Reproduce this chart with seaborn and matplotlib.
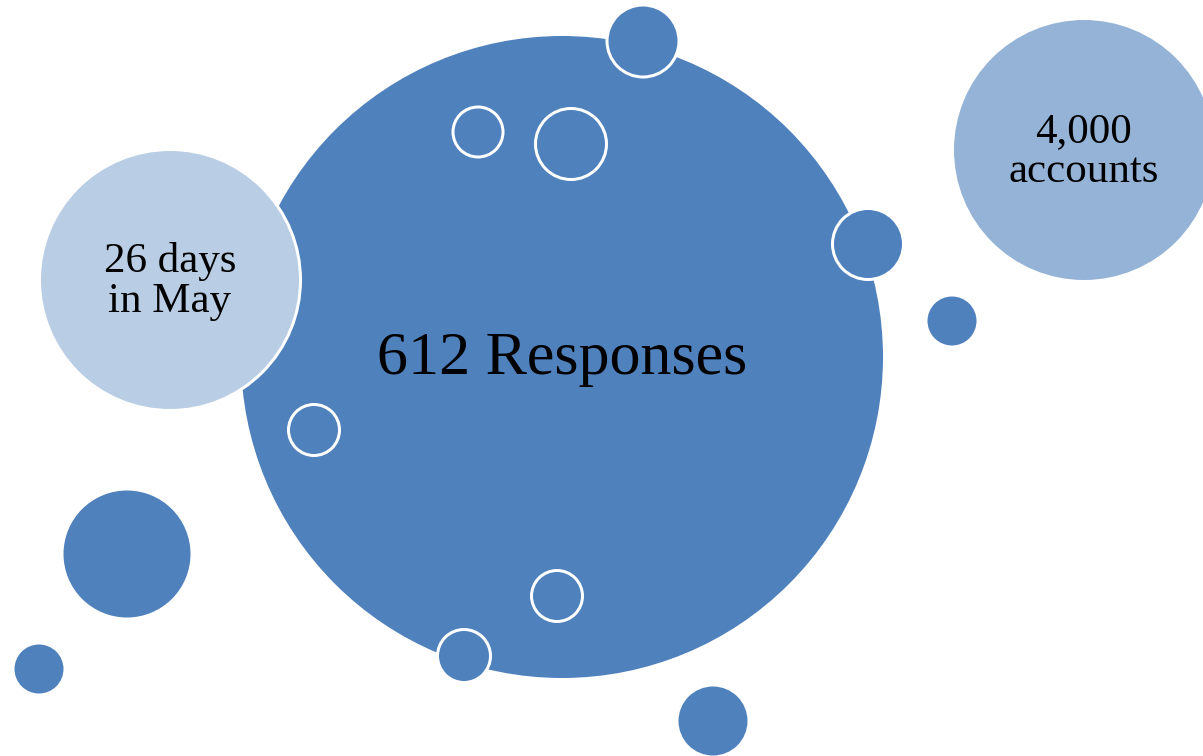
import matplotlib
matplotlib.use("Agg")
import matplotlib.pyplot as plt
import seaborn as sns
import pandas as pd
import numpy as np

# ---- data ----
labels = ["612 Responses", "26 days\nin May", "4,000\naccounts",
          "", "", "", "", "", "", "", "", "", "", ""]
cx = [562, 170, 1084, 643, 478, 571, 868, 952, 314, 127, 39, 557, 464, 713]
cy = [357, 280, 150, 41, 132, 144, 244, 321, 430, 554, 669, 596, 656, 721]
# radius of the blue fill (white ring lies outside it)
radius = [321, 129, 130, 34.5, 23.5, 34, 34, 24.5, 24, 63.5, 24.5, 24, 25, 34.5]
fills = ["#4F81BD", "#B9CDE5", "#95B3D7"] + ["#4F81BD"] * 11
font_px = [62, 43, 43] + [0] * 11

W, H, DPI = 1203, 756, 100
EDGE_PX = 3.0
PT = 72.0 / DPI

sns.set_theme(style="white")
plt.rcParams["font.family"] = ["Liberation Serif", "DejaVu Serif"]

df = pd.DataFrame({"x": cx, "y": cy, "r": radius, "c": fills})
# marker path radius = fill radius + half the edge width
diam_pt = (2 * (df["r"] + EDGE_PX / 2)) * PT
sizes = diam_pt ** 2

fig = plt.figure(figsize=(W / DPI, H / DPI), dpi=DPI)
ax = fig.add_axes([0, 0, 1, 1])
sns.scatterplot(data=df, x="x", y="y", s=sizes.values, c=df["c"].tolist(),
                edgecolor="white", linewidth=EDGE_PX * PT, marker="o",
                legend=False, ax=ax, zorder=2)
ax.set_xlim(0, W)
ax.set_ylim(H, 0)
ax.axis("off")

for lab, x, y, fp in zip(labels, cx, cy, font_px):
    if not lab:
        continue
    lines = lab.split("\n")
    pitch = fp * 0.95
    n = len(lines)
    c = fp * 0.28
    for i, line in enumerate(lines):
        base = y + c + (i - (n - 1) / 2) * pitch
        ax.text(x, base, line, ha="center", va="baseline",
                fontsize=fp * PT, color="black", zorder=5)

fig.savefig("out.png", dpi=DPI, facecolor="white")
